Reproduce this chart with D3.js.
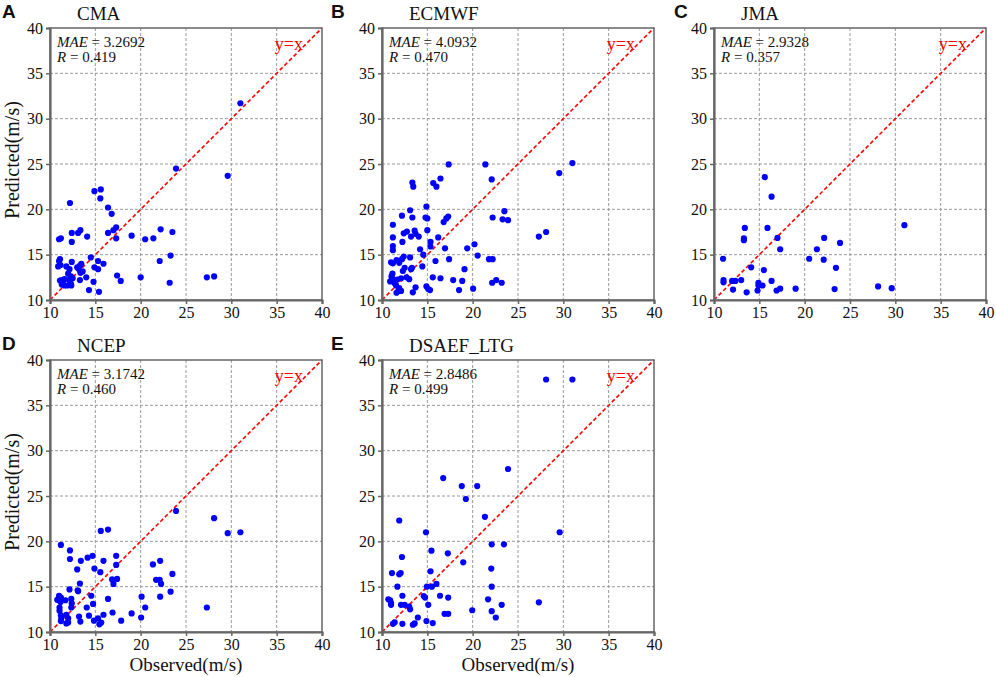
<!DOCTYPE html>
<html>
<head>
<meta charset="utf-8">
<script src="https://cdn.jsdelivr.net/npm/d3@7"></script>
<style>
body { margin: 0; background: #fff; }
</style>
</head>
<body>
<script>
// observed vs predicted wind speed (m/s)
var cmaPoints = [
    [31.0,31.7],[23.9,24.5],[29.6,23.7],[14.9,22.0],[15.6,22.2],[15.55,21.2],[12.2,20.7],[16.4,20.2],
    [16.8,19.5],[11.0,16.7],[11.2,16.8],[12.4,17.4],[12.4,16.4],[13.1,17.4],[13.35,17.7],[14.1,17.0],
    [16.4,17.4],[17.0,17.7],[17.3,18.0],[17.3,16.8],[19.0,17.1],[20.5,16.7],[21.4,16.8],[22.2,17.8],
    [23.5,17.5],[14.5,14.7],[15.3,14.3],[15.9,14.0],[15.3,13.4],[14.9,13.6],[23.3,14.9],[22.1,14.3],
    [17.4,12.7],[17.8,12.1],[20.0,12.5],[23.2,11.9],[27.3,12.5],[28.1,12.6],[14.3,11.1],[15.4,10.9],
    [14.8,12.0],[14.0,12.5],[11.1,14.5],[11.0,14.3],[10.9,13.7],[11.15,13.85],[12.4,14.2],[11.8,13.7],
    [12.15,13.4],[12.0,12.9],[12.3,12.6],[12.5,12.4],[13.0,13.6],[13.3,13.8],[13.45,14.0],[13.15,13.45],
    [13.6,13.15],[13.35,13.0],[13.3,12.2],[11.1,12.15],[11.3,12.2],[11.6,12.3],[11.4,11.9],[11.6,11.6],
    [11.9,11.6],[12.2,11.7],[12.35,11.6],[11.3,11.7],[12.1,12.2],[12.3,11.8]
];

var ecmwfPoints = [
    [31.0,25.1],[29.55,24.0],[17.35,24.95],[21.4,24.95],[22.1,23.3],[13.35,22.95],[13.45,22.5],[15.65,22.9],
    [16.0,22.5],[16.45,23.4],[14.9,20.3],[13.1,19.9],[12.2,19.3],[13.35,19.1],[14.8,19.1],[15.0,19.0],
    [17.1,19.0],[17.3,19.2],[16.8,18.6],[11.2,18.3],[22.2,19.1],[23.5,19.8],[23.3,18.9],[23.9,18.8],
    [15.0,17.7],[11.2,16.9],[12.4,17.35],[12.75,17.55],[13.2,17.0],[13.6,17.65],[13.7,17.3],[14.05,17.0],
    [12.25,16.4],[11.2,15.95],[15.35,16.4],[15.35,15.9],[16.2,16.9],[16.95,15.7],[11.2,15.5],[19.4,15.7],
    [20.2,16.15],[20.55,14.9],[14.2,15.6],[14.55,15.0],[14.45,13.7],[15.9,14.3],[17.4,14.5],[21.8,14.5],
    [22.2,14.5],[19.1,13.4],[12.4,14.8],[12.2,14.5],[13.1,14.7],[11.0,14.15],[11.2,14.05],[11.6,14.4],
    [11.9,14.1],[12.3,13.2],[12.5,13.55],[13.2,13.4],[13.3,13.55],[11.15,12.9],[11.05,12.6],[10.9,12.05],
    [11.2,12.3],[11.7,12.25],[12.1,12.4],[12.7,12.5],[13.0,12.3],[15.6,12.5],[16.45,12.4],[17.85,12.2],
    [18.85,12.1],[18.5,11.1],[20.05,11.25],[22.15,11.9],[22.6,12.2],[23.2,11.9],[14.9,11.5],[15.1,11.2],
    [15.3,11.1],[13.7,11.4],[13.4,10.85],[11.8,11.0],[11.9,11.3],[11.6,10.8],[12.1,11.0],[11.4,11.85],
    [11.55,11.6],[27.3,17.0],[28.1,17.5]
];

var jmaPoints = [
    [15.6,23.55],[16.35,21.4],[13.4,17.95],[15.9,17.95],[13.3,16.8],[13.3,16.6],[17.0,16.85],[17.3,15.6],
    [31.0,18.25],[22.15,16.85],[23.9,16.3],[21.35,15.6],[20.5,14.55],[22.1,14.45],[23.45,13.55],[11.0,14.55],
    [14.1,13.6],[15.5,13.3],[11.05,12.2],[11.05,11.95],[12.0,12.1],[12.35,12.1],[13.0,12.2],[12.1,11.15],
    [13.6,10.85],[14.9,11.9],[14.9,11.6],[15.35,11.6],[14.8,11.05],[16.35,12.1],[16.9,11.05],[17.3,11.25],
    [19.0,11.25],[23.3,11.2],[28.1,11.5],[29.6,11.3]
];

var ncepPoints = [
    [23.9,23.35],[28.1,22.55],[29.6,20.9],[31.0,21.0],[15.6,21.15],[16.4,21.3],[11.2,19.6],[12.2,19.0],
    [12.2,18.05],[13.4,17.85],[14.15,18.2],[14.7,18.4],[13.0,16.9],[14.9,17.0],[15.9,17.85],[17.3,18.4],
    [17.3,17.4],[15.55,16.6],[16.85,15.8],[17.0,15.3],[17.4,15.85],[21.35,17.45],[22.15,17.85],[23.5,16.4],
    [21.7,15.75],[22.1,15.75],[22.25,15.3],[23.3,14.45],[22.15,13.9],[20.1,13.9],[20.5,12.7],[20.05,11.6],
    [19.0,12.05],[17.85,11.25],[27.3,12.7],[16.4,13.65],[16.9,12.15],[15.9,11.9],[15.3,11.5],[15.65,11.05],
    [15.45,10.85],[14.85,11.25],[14.55,14.0],[14.75,13.1],[13.3,15.35],[13.05,14.6],[12.15,14.7],[14.05,12.7],
    [14.3,11.8],[13.2,11.7],[13.35,11.15],[11.0,14.0],[11.2,13.8],[10.8,13.55],[11.7,13.5],[12.35,13.65],
    [12.4,13.15],[12.35,12.7],[11.05,12.7],[11.05,12.35],[11.2,11.85],[11.25,11.55],[11.8,11.9],[12.0,11.5],
    [11.8,10.95],[12.0,11.05],[13.1,14.5],[11.15,13.3],[11.2,11.2]
];

var dsaefPoints = [
    [28.1,37.85],[31.0,37.85],[23.9,27.98],[16.75,26.98],[18.8,26.1],[20.5,26.1],[19.25,24.67],[21.35,22.7],
    [11.9,22.3],[14.85,21.0],[29.6,21.0],[15.45,18.97],[22.1,19.67],[23.45,19.67],[12.2,18.27],[17.26,18.68],
    [18.96,17.68],[22.05,16.99],[15.35,16.7],[11.1,16.5],[11.9,16.36],[12.06,16.5],[11.7,15.0],[14.95,15.0],
    [15.5,15.0],[16.0,15.3],[22.1,15.0],[14.6,13.97],[14.75,13.8],[12.25,14.0],[16.4,14.0],[17.3,13.8],
    [21.7,13.6],[27.3,13.27],[10.7,13.6],[10.9,13.5],[11.0,13.2],[11.0,13.0],[12.1,13.0],[12.5,13.0],
    [13.0,12.8],[13.1,12.5],[15.1,13.0],[23.2,13.0],[16.9,12.0],[17.3,12.0],[19.95,12.4],[22.1,12.3],
    [22.55,11.6],[13.95,11.6],[14.9,11.2],[15.6,10.98],[11.2,10.9],[11.4,11.07],[12.25,10.9],[13.4,10.8],
    [13.6,10.95]
];

var tickValues = [10, 15, 20, 25, 30, 35, 40];

var panels = [
    {letter: "A", name: "CMA",       mae: "3.2692", r: "0.419", points: cmaPoints,   col: 0, row: 0},
    {letter: "B", name: "ECMWF",     mae: "4.0932", r: "0.470", points: ecmwfPoints, col: 1, row: 0},
    {letter: "C", name: "JMA",       mae: "2.9328", r: "0.357", points: jmaPoints,   col: 2, row: 0},
    {letter: "D", name: "NCEP",      mae: "3.1742", r: "0.460", points: ncepPoints,  col: 0, row: 1},
    {letter: "E", name: "DSAEF_LTG", mae: "2.8486", r: "0.499", points: dsaefPoints, col: 1, row: 1}
];

// layout
var colLeft = [50, 382, 714],
    rowTop = [28, 360],
    letterX = [2, 331, 674],
    size = 272;

var serif = "'Liberation Serif', 'Times New Roman', serif";

var svg = d3.select("body").append("svg")
    .attr("width", 996)
    .attr("height", 677)
    .style("font-family", serif);

panels.forEach(function(p) {
    var left = colLeft[p.col], top = rowTop[p.row];

    var x = d3.scaleLinear().domain([10, 40]).range([0, size]);
    var y = d3.scaleLinear().domain([10, 40]).range([size, 0]);

    var g = svg.append("g")
        .attr("transform", "translate(" + left + "," + top + ")");

    // dashed grid
    g.selectAll(".vgrid")
        .data(tickValues.slice(1, -1))
        .enter()
        .append("line")
        .attr("x1", function(d) { return x(d); })
        .attr("x2", function(d) { return x(d); })
        .attr("y1", 0)
        .attr("y2", size)
        .attr("stroke", "#9a9a9a")
        .attr("stroke-width", 1)
        .attr("stroke-dasharray", "3,2");

    g.selectAll(".hgrid")
        .data(tickValues.slice(1, -1))
        .enter()
        .append("line")
        .attr("y1", function(d) { return y(d); })
        .attr("y2", function(d) { return y(d); })
        .attr("x1", 0)
        .attr("x2", size)
        .attr("stroke", "#9a9a9a")
        .attr("stroke-width", 1)
        .attr("stroke-dasharray", "3,2");

    // y = x reference line
    g.append("line")
        .attr("x1", x(10))
        .attr("y1", y(10))
        .attr("x2", x(40))
        .attr("y2", y(40))
        .attr("stroke", "#ff0000")
        .attr("stroke-width", 1.6)
        .attr("stroke-dasharray", "4,2.5");

    g.append("text")
        .attr("x", x(34.8))
        .attr("y", y(37.6))
        .style("font-size", "18px")
        .style("fill", "#ff0000")
        .text("y=x");

    // scatter
    g.selectAll("circle")
        .data(p.points)
        .enter()
        .append("circle")
        .attr("cx", function(d) { return x(d[0]); })
        .attr("cy", function(d) { return y(d[1]); })
        .attr("r", 3.1)
        .style("fill", "#0000ff");

    // frame
    g.append("rect")
        .attr("x", 0)
        .attr("y", 0)
        .attr("width", size)
        .attr("height", size)
        .attr("fill", "none")
        .attr("stroke", "#666")
        .attr("stroke-width", 1.5);

    // axes
    var xAxis = g.append("g")
        .attr("transform", "translate(0," + size + ")")
        .call(d3.axisBottom(x).tickValues(tickValues).tickSize(4).tickPadding(3));
    var yAxis = g.append("g")
        .call(d3.axisLeft(y).tickValues(tickValues).tickSize(4).tickPadding(3));

    [xAxis, yAxis].forEach(function(a) {
        a.select(".domain").attr("stroke", "#666").attr("stroke-width", 2.2);
        a.selectAll(".tick line").attr("stroke", "#666").attr("stroke-width", 1.5);
        a.selectAll(".tick text")
            .style("font-family", serif)
            .style("font-size", "16px")
            .style("fill", "#111");
    });

    // stats
    var stats = g.append("text")
        .attr("x", 7)
        .attr("y", 19)
        .style("font-size", "15px")
        .style("fill", "#111");
    stats.append("tspan").style("font-style", "italic").text("MAE");
    stats.append("tspan").text(" = " + p.mae);

    var stats2 = g.append("text")
        .attr("x", 7)
        .attr("y", 34)
        .style("font-size", "15px")
        .style("fill", "#111");
    stats2.append("tspan").style("font-style", "italic").text("R");
    stats2.append("tspan").text(" = " + p.r);

    // title and panel letter
    svg.append("text")
        .attr("x", left + 27)
        .attr("y", top - 8)
        .style("font-size", "19px")
        .style("fill", "#111")
        .text(p.name);

    svg.append("text")
        .attr("x", letterX[p.col])
        .attr("y", top - 10)
        .style("font-family", "'Liberation Sans', Arial, sans-serif")
        .style("font-weight", "bold")
        .style("font-size", "19px")
        .style("fill", "#111")
        .text(p.letter);

    if (p.col == 0) {
        svg.append("text")
            .attr("transform", "translate(" + (left - 31) + "," + (top + size / 2 - 4) + ") rotate(-90)")
            .attr("text-anchor", "middle")
            .style("font-size", "20px")
            .style("fill", "#111")
            .text("Predicted(m/s)");
    }

    if (p.row == 1) {
        svg.append("text")
            .attr("x", left + size / 2)
            .attr("y", top + size + 39)
            .attr("text-anchor", "middle")
            .style("font-size", "19px")
            .style("fill", "#111")
            .text("Observed(m/s)");
    }
});
</script>
</body>
</html>
